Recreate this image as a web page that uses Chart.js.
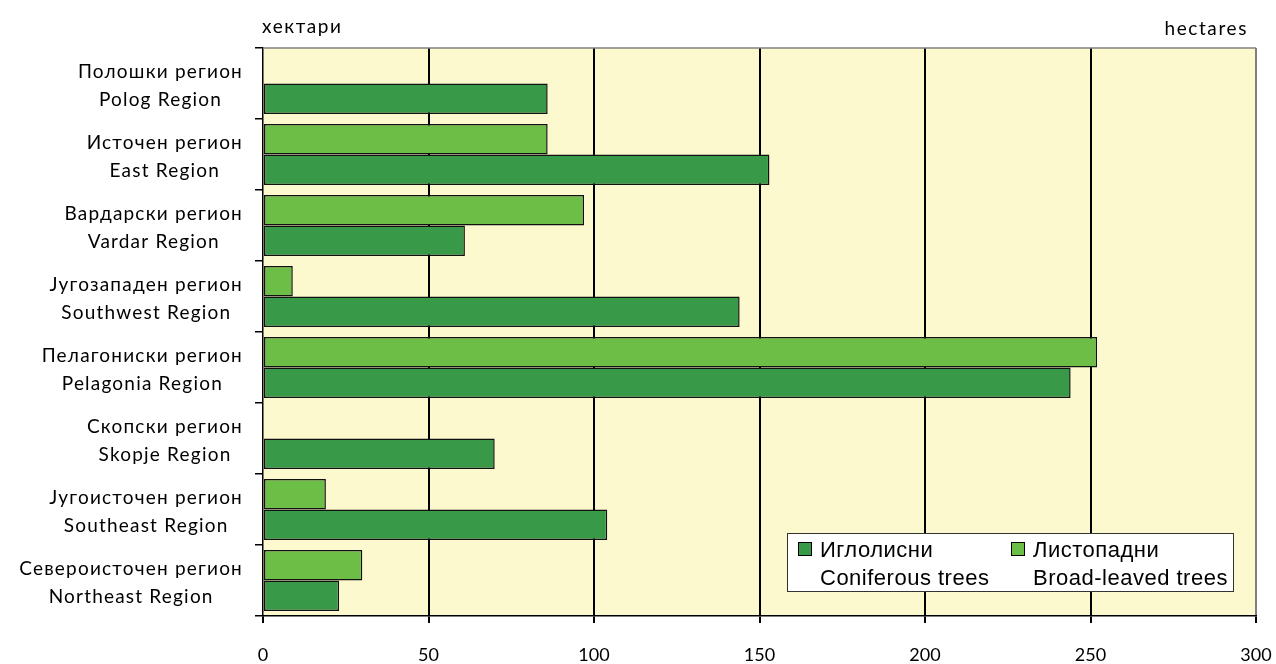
<!DOCTYPE html>
<html>
<head>
<meta charset="utf-8">
<script src="https://cdn.jsdelivr.net/npm/chart.js@4"></script>
<style>
  html, body { margin: 0; padding: 0; background: #fff; overflow: hidden; }
</style>
</head>
<body>
<canvas id="chart" width="1276" height="664"></canvas>
<script>
// regions, top to bottom
const regionsMk = ["Полошки регион", "Источен регион", "Вардарски регион", "Југозападен регион",
  "Пелагониски регион", "Скопски регион", "Југоисточен регион", "Североисточен регион"];
const regionsEn = ["Polog Region", "East Region", "Vardar Region", "Southwest Region",
  "Pelagonia Region", "Skopje Region", "Southeast Region", "Northeast Region"];

// hectares
const coniferous = [86, 153, 61, 144, 244, 70, 104, 23];
const broadLeaved = [0, 86, 97, 9, 252, 0, 19, 30];

const xTicks = [0, 50, 100, 150, 200, 250, 300];

const DARK = "#389A48";
const LIGHT = "#6CBE46";
const labelFont = "19px Lato";

// cream plot background and grey top edge
const plotBg = {
  id: "plotBg",
  beforeDraw(chart) {
    const { ctx, chartArea: a } = chart;
    ctx.save();
    ctx.fillStyle = "#FCF9CE";
    ctx.fillRect(a.left, a.top, a.right - a.left, a.bottom - a.top);
    ctx.restore();
  },
  afterDraw(chart) {
    const { ctx, chartArea: a } = chart;
    ctx.save();
    ctx.strokeStyle = "#808080";
    ctx.lineWidth = 1.5;
    ctx.beginPath();
    ctx.moveTo(a.left, a.top);
    ctx.lineTo(a.right, a.top);
    ctx.stroke();
    ctx.restore();
  }
};

// two-line category labels, each line centred inside a right-aligned block
const regionLabels = {
  id: "regionLabels",
  afterDraw(chart) {
    const { ctx } = chart;
    const y = chart.scales.y;
    const right = 243;
    ctx.save();
    ctx.font = labelFont;
    ctx.letterSpacing = "1.2px";
    ctx.fillStyle = "#000";
    ctx.textAlign = "center";
    ctx.textBaseline = "middle";
    regionsMk.forEach((mk, i) => {
      const en = regionsEn[i];
      const w = Math.max(ctx.measureText(mk).width, ctx.measureText(en).width);
      const cx = right - w / 2;
      const cy = y.getPixelForValue(i);
      ctx.fillText(mk, cx, cy - 12);
      ctx.fillText(en, cx, cy + 16);
    });
    // unit labels
    ctx.letterSpacing = "1.6px";
    ctx.textAlign = "left";
    ctx.fillText("хектари", 262, 27);
    ctx.textAlign = "right";
    ctx.fillText("hectares", 1248, 29);
    ctx.restore();
  }
};

// boxed legend with Macedonian + English names
const boxLegend = {
  id: "boxLegend",
  afterDraw(chart) {
    const { ctx } = chart;
    const bx = 787, by = 533, bw = 446, bh = 58;
    ctx.save();
    ctx.fillStyle = "#fff";
    ctx.fillRect(bx, by, bw, bh);
    ctx.strokeStyle = "#333";
    ctx.lineWidth = 1;
    ctx.strokeRect(bx + 0.5, by + 0.5, bw, bh);
    ctx.font = "22px 'Liberation Sans', Arial";
    ctx.letterSpacing = "0.5px";
    ctx.textBaseline = "middle";
    const order = [1, 0];
    const cols = [798, 1011];
    order.forEach((di, k) => {
      const ds = chart.data.datasets[di];
      const x = cols[k];
      ctx.fillStyle = ds.backgroundColor;
      ctx.fillRect(x, 542, 14, 14);
      ctx.strokeStyle = "#000";
      ctx.strokeRect(x + 0.5, 542.5, 13, 13);
      ctx.fillStyle = "#000";
      ctx.fillText(ds.label[0], x + 22, 551);
      ctx.fillText(ds.label[1], x + 22, 579);
    });
    ctx.restore();
  }
};

new Chart(document.getElementById("chart"), {
  type: "bar",
  data: {
    labels: regionsEn,
    datasets: [
      { label: ["Листопадни", "Broad-leaved trees"], data: broadLeaved, backgroundColor: LIGHT,
        borderColor: "#111", borderWidth: 1.5, borderSkipped: false },
      { label: ["Иглолисни", "Coniferous trees"], data: coniferous, backgroundColor: DARK,
        borderColor: "#111", borderWidth: 1.5, borderSkipped: false }
    ]
  },
  options: {
    indexAxis: "y",
    responsive: false,
    animation: false,
    categoryPercentage: 0.86,
    barPercentage: 1,
    layout: { autoPadding: false, padding: { top: 48, right: 20, left: 0, bottom: 0 } },
    plugins: { legend: { display: false }, tooltip: { enabled: false } },
    scales: {
      x: {
        min: 0, max: 300,
        afterBuildTicks(s) { s.ticks = xTicks.map(v => ({ value: v })); },
        afterFit(s) { s.height = 48; s.paddingLeft = 0; s.paddingRight = 0; },
        border: { display: true, color: "#000", width: 1.5 },
        grid: {
          color: c => c.tick && c.tick.value === 300 ? "#808080" : (c.tick && c.tick.value === 0 ? "rgba(0,0,0,0)" : "#000"),
          tickColor: "#000",
          lineWidth: 2,
          tickLength: 7
        },
        ticks: { color: "#000", font: { family: "Lato", size: 18 }, padding: 21 }
      },
      y: {
        afterFit(s) { s.width = 263; s.paddingTop = 0; s.paddingBottom = 0; },
        border: { display: true, color: "#000", width: 1.5 },
        grid: { drawOnChartArea: false, drawTicks: true, tickLength: 8, tickColor: "#000", lineWidth: 1.5, offset: true },
        ticks: { display: false }
      }
    }
  },
  plugins: [plotBg, regionLabels, boxLegend]
});
</script>
</body>
</html>
